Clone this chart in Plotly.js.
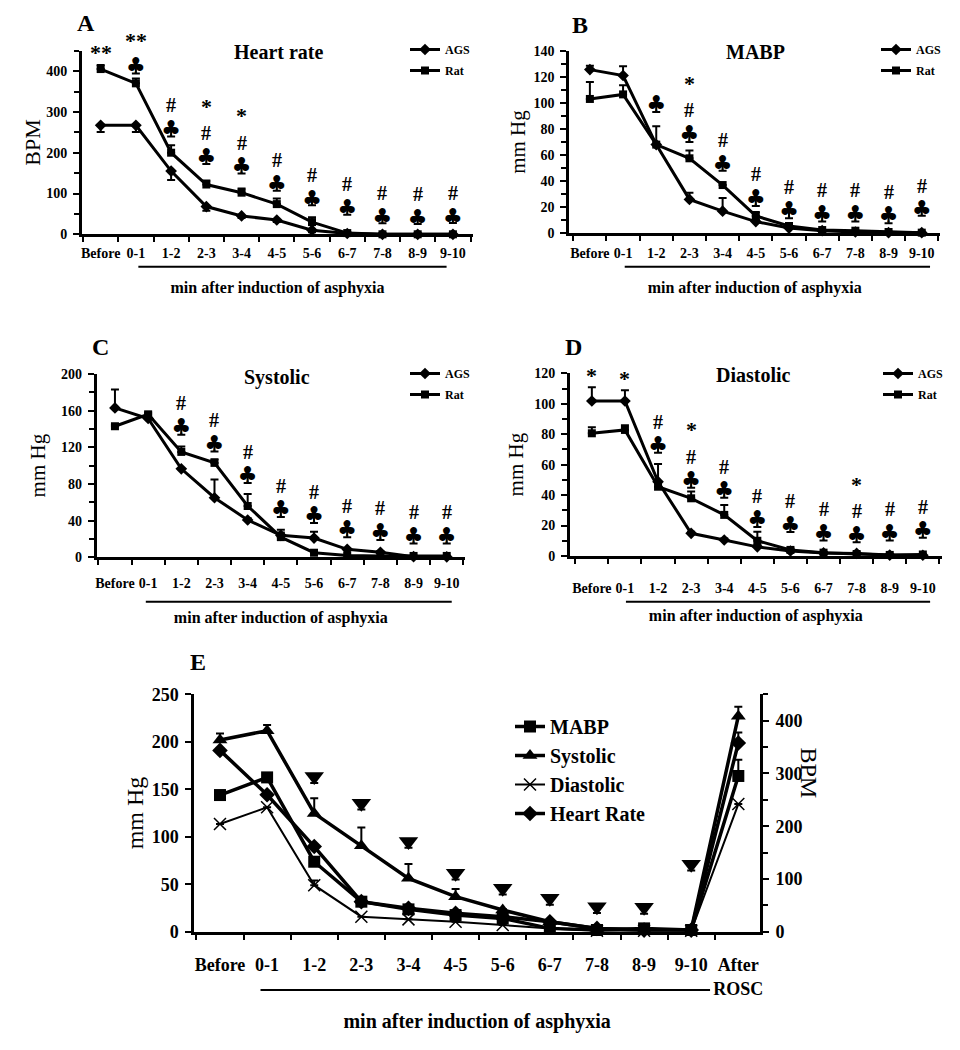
<!DOCTYPE html>
<html><head><meta charset="utf-8">
<script src="https://cdn.plot.ly/plotly-3.0.1.min.js"></script>
<style>body{margin:0;padding:0;background:#fff}</style>
</head><body>
<div id="chart" style="width:960px;height:1050px"></div>
<script>
// ---------- categories ----------
const cats = ['Before','0-1','1-2','2-3','3-4','4-5','5-6','6-7','7-8','8-9','9-10'];
const catsE = ['Before','0-1','1-2','2-3','3-4','4-5','5-6','6-7','7-8','8-9','9-10','After'];
const tickTextE = ['Before','0-1','1-2','2-3','3-4','4-5','5-6','6-7','7-8','8-9','9-10','After<br>ROSC'];

// ---------- Panel A: Heart rate (BPM) ----------
const hrAGS      = [267, 267, 155, 68, 45, 35, 10, 2, 0, 0, 0];
const hrAGSerrP  = [0, 0, 0, 0, 0, 0, 0, 0, 0, 0, 0];
const hrAGSerrM  = [16, 16, 22, 10, 5, 5, 5, 2, 0, 0, 0];
const hrRat      = [405, 370, 200, 122, 102, 74, 30, 3, 0, 0, 0];
const hrRatErrP  = [10, 12, 18, 10, 10, 14, 12, 2, 0, 0, 0];
const hrRatErrM  = [0, 0, 0, 0, 0, 0, 0, 0, 0, 0, 0];
const hrClub     = [null, 410, 255, 186, 163, 120, 84, 61, 39, 37, 39];
const hrClubErr  = [0, 16, 15, 14, 14, 13, 13, 13, 12, 12, 11];
const hrStar     = ['**','**','','*','*','','','','','',''];
const hrHash     = ['','','#','#','#','#','#','#','#','#','#'];

// ---------- Panel B: MABP (mm Hg) ----------
const mapAGS     = [125.5, 121, 68, 26, 17, 9, 4, 2, 1, 0.5, 0.5];
const mapAGSerrP = [3, 7, 0, 5, 10, 1, 1, 0, 0, 0, 0];
const mapAGSerrM = [0, 0, 0, 0, 0, 0, 0, 0, 0, 0, 0];
const mapRat     = [103, 106.5, 68, 57.5, 37, 13.3, 5.6, 2.5, 2, 1, 0.5];
const mapRatErrP = [13, 7, 14, 6, 0, 3, 1, 0, 0, 0, 0];
const mapRatErrM = [0, 0, 0, 0, 0, 0, 0, 0, 0, 0, 0];
const mapClub    = [null, null, 98, 75, 52, 26, 16.6, 14, 14, 12.8, 17.4];
const mapClubErr = [0, 0, 5, 5, 4, 5, 5, 5, 5, 5, 4];
const mapStar    = ['','','','*','','','','','','',''];
const mapHash    = ['','','','#','#','#','#','#','#','#','#'];

// ---------- Panel C: Systolic (mm Hg) ----------
const sysAGS     = [163, 151.5, 96.5, 65, 40.7, 24, 21, 8.7, 5.5, 0.7, 0.5];
const sysAGSerrP = [20, 2, 0, 20, 2, 3, 7, 1, 1, 0, 0];
const sysAGSerrM = [0, 0, 0, 0, 0, 0, 0, 0, 0, 0, 0];
const sysRat     = [143, 156, 115, 103, 56, 22, 5, 2, 1.5, 1.5, 1.5];
const sysRatErrP = [2, 2, 6, 4, 13, 8, 1, 0, 0, 0, 0];
const sysRatErrM = [0, 0, 0, 0, 0, 0, 0, 0, 0, 0, 0];
const sysClub    = [null, null, 140.7, 122.5, 88, 51, 44.4, 29, 26, 22, 22];
const sysClubErr = [0, 0, 7, 7, 7, 7, 7, 7, 7, 7, 7];
const sysStar    = ['','','','','','','','','','',''];
const sysHash    = ['','','#','#','#','#','#','#','#','#','#'];

// ---------- Panel D: Diastolic (mm Hg) ----------
const diaAGS     = [101.8, 101.8, 48.8, 14.9, 10.5, 6, 3.3, 2, 1.7, 0.6, 0.5];
const diaAGSerrP = [9, 7, 0, 1, 1, 1, 1, 0, 0, 0, 0];
const diaAGSerrM = [0, 0, 0, 0, 0, 0, 0, 0, 0, 0, 0];
const diaRat     = [80.6, 82.8, 45.5, 37.9, 27, 10, 4, 2.2, 1.3, 0.7, 1];
const diaRatErrP = [4, 3, 15, 4.4, 6.5, 6, 1, 0, 0, 0, 0];
const diaRatErrM = [0, 0, 0, 0, 0, 0, 0, 0, 0, 0, 0];
const diaClub    = [null, null, 71.8, 48.8, 42.3, 23, 19.7, 14.2, 13.1, 14.2, 16];
const diaClubErr = [0, 0, 4, 4, 4, 4, 4, 4, 4, 4, 4];
const diaStar    = ['*','*','','*','','','','','*','',''];
const diaHash    = ['','','#','#','#','#','#','#','#','#','#'];

// ---------- Panel E ----------
const eMABP      = [143.9, 162.5, 73.7, 31.6, 23.5, 17.5, 14, 3.5, 1.8, 3.5, 1.8, 164];
const eMABPerr   = [0, 0, 0, 4, 0, 0, 0, 0, 0, 0, 0, 17];
const eSys       = [201.8, 211.7, 124.6, 90.6, 56.2, 36.9, 22.8, 10.5, 3.5, 1.8, 1.8, 227];
const eSysErr    = [7, 6, 16, 19, 15, 8, 1, 1, 0, 0, 0, 10];
const eDia       = [113.4, 131, 49, 15.8, 13, 10.5, 7, 3.5, 1, 1, 1, 134.4];
const eDiaErr    = [0, 0, 5, 0, 0, 0, 0, 0, 0, 0, 0, 0];
const eHR        = [343.7, 259.5, 161.4, 57, 44.3, 34.8, 28.5, 19, 6.3, 3, 3, 357.6];
const eHRerr     = [0, 0, 0, 0, 0, 0, 0, 0, 0, 0, 0, 20];
const eTri       = [null, null, 294, 243.7, 171, 110.8, 82.3, 63.3, 47.5, 46.2, 127.8, null];
const eTriErr    = [0, 0, 12, 12, 12, 12, 12, 12, 12, 12, 12, 0];

// ---------- styling helpers ----------
const SERIF = 'Liberation Serif';
const BLACK = '#000';
function errBar(plus, minus, thick) {
  return {type:'data', symmetric:false, array:plus, arrayminus:minus,
          color:BLACK, thickness:thick||2, width:4};
}

const panels = [
  {n:1, ags:hrAGS, agsP:hrAGSerrP, agsM:hrAGSerrM, rat:hrRat, ratP:hrRatErrP, ratM:hrRatErrM,
   club:hrClub, clubErr:hrClubErr, star:hrStar, hash:hrHash},
  {n:2, ags:mapAGS, agsP:mapAGSerrP, agsM:mapAGSerrM, rat:mapRat, ratP:mapRatErrP, ratM:mapRatErrM,
   club:mapClub, clubErr:mapClubErr, star:mapStar, hash:mapHash},
  {n:3, ags:sysAGS, agsP:sysAGSerrP, agsM:sysAGSerrM, rat:sysRat, ratP:sysRatErrP, ratM:sysRatErrM,
   club:sysClub, clubErr:sysClubErr, star:sysStar, hash:sysHash},
  {n:4, ags:diaAGS, agsP:diaAGSerrP, agsM:diaAGSerrM, rat:diaRat, ratP:diaRatErrP, ratM:diaRatErrM,
   club:diaClub, clubErr:diaClubErr, star:diaStar, hash:diaHash}
];

const traces = [];
const annotations = [];
function ax(n){ return n===1 ? '' : String(n); }

panels.forEach(p => {
  const xa = 'x'+ax(p.n), ya = 'y'+ax(p.n), lg = 'legend'+ax(p.n);
  traces.push({x:cats, y:p.ags, name:'AGS', type:'scatter', mode:'lines+markers',
    xaxis:xa, yaxis:ya, legend:lg, legendgroup:'ags'+p.n,
    line:{color:BLACK, width:3}, marker:{symbol:'diamond', size:9, color:BLACK},
    error_y:errBar(p.agsP, p.agsM), cliponaxis:false});
  traces.push({x:cats, y:p.rat, name:'Rat', type:'scatter', mode:'lines+markers',
    xaxis:xa, yaxis:ya, legend:lg, legendgroup:'rat'+p.n,
    line:{color:BLACK, width:3}, marker:{symbol:'square', size:8, color:BLACK},
    error_y:errBar(p.ratP, p.ratM), cliponaxis:false});
  traces.push({x:cats, y:p.club, type:'scatter', mode:'text', text:p.club.map(v => v===null ? '' : '\u2663'),
    textposition:'middle center', textfont:{family:'DejaVu Sans', size:22, color:BLACK},
    xaxis:xa, yaxis:ya, showlegend:false, hoverinfo:'skip', cliponaxis:false,
    error_y:errBar(p.clubErr.map(()=>0), p.clubErr)});
  // significance marks
  cats.forEach((c, i) => {
    const hasClub = p.club[i] !== null;
    const anchor = hasClub ? p.club[i] : Math.max(p.ags[i] + p.agsP[i], p.rat[i] + p.ratP[i]);
    if (p.hash[i]) {
      annotations.push({x:c, y:anchor, xref:xa, yref:ya, text:p.hash[i], showarrow:false,
        yanchor:'middle', yshift:25, font:{family:SERIF, size:20, weight:'bold', color:BLACK}});
    }
    if (p.star[i]) {
      const sh = p.hash[i] ? 52 : (hasClub ? 27 : 12);
      annotations.push({x:c, y:anchor, xref:xa, yref:ya, text:p.star[i], showarrow:false,
        yanchor:'middle', yshift:sh, font:{family:SERIF, size:22, weight:'bold', color:BLACK}});
    }
  });
});

// Panel E traces
traces.push({x:catsE, y:eMABP, name:'MABP', type:'scatter', mode:'lines+markers',
  xaxis:'x5', yaxis:'y5', legend:'legend5', legendgroup:'e1',
  line:{color:BLACK, width:3.5}, marker:{symbol:'square', size:12, color:BLACK},
  error_y:errBar(eMABPerr, eMABPerr.map(()=>0)), cliponaxis:false});
traces.push({x:catsE, y:eSys, name:'Systolic', type:'scatter', mode:'lines+markers',
  xaxis:'x5', yaxis:'y5', legend:'legend5', legendgroup:'e2',
  line:{color:BLACK, width:3.5}, marker:{symbol:'triangle-up', size:13, color:BLACK},
  error_y:errBar(eSysErr, eSysErr.map(()=>0)), cliponaxis:false});
traces.push({x:catsE, y:eDia, name:'Diastolic', type:'scatter', mode:'lines+markers',
  xaxis:'x5', yaxis:'y5', legend:'legend5', legendgroup:'e3',
  line:{color:BLACK, width:2}, marker:{symbol:'x-thin', size:12, color:BLACK, line:{color:BLACK, width:1.5}},
  error_y:errBar(eDiaErr, eDiaErr.map(()=>0)), cliponaxis:false});
traces.push({x:catsE, y:eHR, name:'Heart Rate', type:'scatter', mode:'lines+markers',
  xaxis:'x5', yaxis:'y6', legend:'legend5', legendgroup:'e4',
  line:{color:BLACK, width:3.5}, marker:{symbol:'diamond', size:12, color:BLACK},
  error_y:errBar(eHRerr, eHRerr.map(()=>0)), cliponaxis:false});
traces.push({x:catsE, y:eTri, type:'scatter', mode:'markers', showlegend:false,
  xaxis:'x5', yaxis:'y6', marker:{symbol:'triangle-down', size:17, color:BLACK},
  error_y:errBar(eTriErr.map(()=>0), eTriErr), cliponaxis:false, hoverinfo:'skip'});

// ---------- axes ----------
const H = 1050, W = 960;
function xd(a,b){ return [a/W, b/W]; }
function yd(top,bot){ return [1-bot/H, 1-top/H]; }
const tf = (s) => ({family:SERIF, size:s, weight:'bold', color:BLACK});
function xAxis(dom, anchor, range, standoffLbl, titleStandoff, fsize, tsize, cat, ttext) {
  const a = {domain:dom, anchor:anchor, range:range, type:'category',
    categoryorder:'array', categoryarray:cat, tickson:'boundaries',
    showline:true, linecolor:BLACK, linewidth:3, ticks:'outside', ticklen:5, tickwidth:2, tickcolor:BLACK,
    showgrid:false, zeroline:false, tickfont:tf(fsize), tickangle:0, ticklabelstandoff:standoffLbl,
    title:{text:'min after induction of asphyxia', font:tf(tsize), standoff:titleStandoff},
    automargin:false, fixedrange:true};
  if (ttext) { a.tickmode='array'; a.tickvals=cat; a.ticktext=ttext; }
  return a;
}
function yAxis(dom, anchor, range, dtick, minor, title, tsize, fsize, tstand) {
  return {domain:dom, anchor:anchor, range:range, dtick:dtick,
    showline:true, linecolor:BLACK, linewidth:3, ticks:'outside', ticklen:6, tickwidth:2, tickcolor:BLACK,
    minor:{dtick:minor, ticks:'outside', ticklen:5, tickwidth:2, tickcolor:BLACK},
    showgrid:false, zeroline:false, tickfont:tf(fsize), ticklabelstandoff:3,
    title:{text:title, font:{family:SERIF, size:tsize, color:BLACK}, standoff:tstand},
    automargin:false, fixedrange:true};
}

const layout = {
  width:W, height:H, margin:{l:0, r:0, t:0, b:0},
  paper_bgcolor:'#fff', plot_bgcolor:'rgba(0,0,0,0)', showlegend:true,
  xaxis:  xAxis(xd(82,473),   'y',  [-0.53,10.57], 4, 22, 14, 16, cats),
  yaxis:  yAxis(yd(50.7,234.3),'x', [0,450], 100, 50, 'BPM', 22, 14, 0),
  xaxis2: xAxis(xd(569.3,940), 'y2', [-0.62,10.55], 5, 22, 14, 16, cats),
  yaxis2: yAxis(yd(50.7,233.3),'x2',[0,140], 20, 10, 'mm Hg', 21, 14, 3),
  xaxis3: xAxis(xd(96.7,465),  'y3', [-0.55,10.55], 11, 22, 14, 16, cats),
  yaxis3: yAxis(yd(374,557.3), 'x3',[0,200], 40, 20, 'mm Hg', 21, 14, 10),
  xaxis4: xAxis(xd(570,941.7), 'y4', [-0.66,10.57], 17, 16, 14, 16, cats),
  yaxis4: yAxis(yd(373.3,556), 'x4',[0,120], 20, 10, 'mm Hg', 21, 14, 5),
  xaxis5: xAxis(xd(194.3,760), 'y5', [-0.545,11.46], 15, 17, 18, 20, catsE, tickTextE),
  yaxis5: yAxis(yd(694.3,931.7),'x5',[0,250], 50, 50, 'mm Hg', 24, 18, 2),
  yaxis6: Object.assign(yAxis(yd(694.3,931.7),'x5',[0,450], 100, 50, '', 24, 18, 2),
          {overlaying:'y5', side:'right'}),
  annotations: annotations,
  shapes: []
};

// legends
function leg(xpx, ypx, size, gap) {
  return {x:xpx/W, y:1-ypx/H, xanchor:'left', yanchor:'top', bgcolor:'rgba(0,0,0,0)',
    borderwidth:0, font:{family:SERIF, size:size, weight:'bold', color:BLACK},
    traceorder:'grouped', tracegroupgap:gap, itemclick:false, itemdoubleclick:false};
}
layout.legend  = leg(405, 35, 12, 2);
layout.legend2 = leg(876, 35, 12, 2);
layout.legend3 = leg(405, 359, 12, 2);
layout.legend4 = leg(878, 359, 12, 2);
layout.legend5 = leg(510, 707, 20, 0);

// underline bars below category labels
const bars = [
  {x:'x',  x0:1.07, x1:9.82, y:266.7},
  {x:'x2', x0:1.05, x1:10.25, y:266.7},
  {x:'x3', x0:0.93, x1:10.15, y:601.7},
  {x:'x4', x0:1.03, x1:10.22, y:601.7},
  {x:'x5', x0:0.86, x1:10.4, y:990}
];
bars.forEach(b => layout.shapes.push({type:'line', xref:b.x, yref:'paper', x0:b.x0, x1:b.x1,
  y0:1-b.y/H, y1:1-b.y/H, line:{color:BLACK, width:2}}));

// panel letters and titles
function pAnn(text, xpx, ypx, size, bold) {
  annotations.push({x:xpx/W, y:1-ypx/H, xref:'paper', yref:'paper', text:text, showarrow:false,
    xanchor:'center', yanchor:'middle',
    font:{family:SERIF, size:size, weight:bold ? 'bold' : 'normal', color:BLACK}});
}
pAnn('A', 86, 23, 24, true);
pAnn('B', 580, 25, 24, true);
pAnn('C', 100, 347, 24, true);
pAnn('D', 573, 347, 24, true);
pAnn('E', 198, 662, 24, true);
pAnn('Heart rate', 279, 52, 20, true);
pAnn('MABP', 755, 52, 20, true);
pAnn('Systolic', 277, 377, 20, true);
pAnn('Diastolic', 753, 375, 20, true);
annotations.push({x:824/W, y:1-800/H, xref:'paper', yref:'paper', text:'BPM', showarrow:false,
  textangle:90, font:{family:SERIF, size:24, color:BLACK}});

Plotly.newPlot('chart', traces, layout, {displayModeBar:false, staticPlot:true});
</script>
</body></html>
